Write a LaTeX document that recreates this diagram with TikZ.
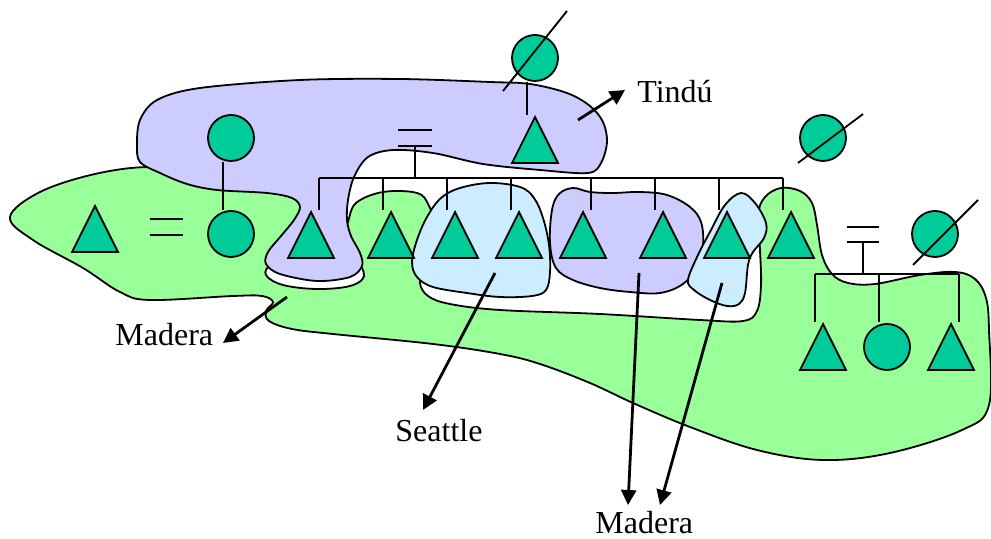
\documentclass[tikz,border=0pt]{standalone}
\usepackage{fontspec}
\setmainfont{Liberation Serif}
\usetikzlibrary{arrows.meta, calc, shapes.geometric}
\definecolor{BlobGreen}{HTML}{99FF99}
\definecolor{BlobLilac}{HTML}{CCCCFF}
\definecolor{BlobSky}{HTML}{CCECFF}
\definecolor{PersonGreen}{HTML}{00CC99}
\tikzset{
  male/.style={draw=black, line width=0.9pt, fill=PersonGreen, isosceles triangle, isosceles triangle apex angle=53.13, shape border rotate=90, minimum size=23pt, inner sep=0pt, anchor=apex},
  female/.style={draw=black, line width=0.9pt, fill=PersonGreen, circle, minimum size=23pt, inner sep=0pt},
  greenblob/.style={draw=black, line width=0.9pt, fill=BlobGreen},
  lilacblob/.style={draw=black, line width=0.9pt, fill=BlobLilac},
  skyblob/.style={draw=black, line width=0.9pt, fill=BlobSky},
  kin/.style={draw=black, line width=0.9pt},
  strike/.style={draw=black, line width=0.9pt},
  arrow/.style={-{Triangle[length=7.5pt, width=7.5pt]}, line width=1.4pt},
  label/.style={font=\fontsize{16}{18}\selectfont, inner sep=0pt, anchor=base west}
}

\begin{document}
\begin{tikzpicture}[x=0.5pt, y=-0.5pt]
\useasboundingbox (0,0) rectangle (991,539);

% blobs
\draw[greenblob] plot[smooth cycle, tension=0.6] coordinates {
  (10,217) (40,192) (95,174) (150,167) (205,173) (265,185) (312,212) (302,242) (272,263)
  (266,275) (283,285) (317,289) (350,286) (364,276) (356,258) (343,240) (348,222)
  (356,203) (383,192) (417,193) (429,206) (438,235) (424,266) (420,283)
  (428,296) (450,304) (500,310) (600,314) (700,320) (743,321) (757,311) (761,285) (760,250)
  (758,215) (765,197) (781,188) (800,191) (812,203) (817,225) (822,255) (832,274)
  (848,283) (875,284) (920,275) (955,272) (975,279) (986,298) (989,330) (989,405)
  (962,430) (890,453) (823,460) (757,450) (690,427) (633,403) (590,383) (540,364)
  (500,354) (433,344) (333,334) (292,329) (269,321) (266,311) (273,302) (262,296)
  (233,296) (150,300) (120,292) (83,268) (33,240)};
\draw[lilacblob] plot[smooth cycle, tension=0.55] coordinates {
  (140,120) (157,100) (200,88) (300,80) (400,79) (490,82) (530,84) (567,93) (590,106)
  (603,122) (607,142) (601,163) (588,173) (540,170) (483,164) (433,153) (393,150)
  (368,157) (354,177) (348,200) (347,220) (351,236) (360,253) (362,266) (350,277)
  (317,281) (280,274) (266,264) (268,252) (281,236) (294,220) (300,207) (292,198)
  (267,193) (217,190) (187,184) (160,173) (140,162) (137,145)};
\draw[skyblob] plot[smooth cycle, tension=0.6] coordinates {
  (412,262) (417,240) (427,217) (441,198) (460,188) (490,183) (520,187) (534,198)
  (543,218) (549,245) (550,272) (546,290) (532,296) (500,297) (467,293) (433,287) (417,277)};
\draw[lilacblob] plot[smooth cycle, tension=0.6] coordinates {
  (550,243) (552,210) (559,194) (573,188) (590,192) (613,193) (640,192) (667,195)
  (690,207) (701,222) (703,245) (697,267) (683,284) (660,293) (630,292) (600,288)
  (573,280) (556,268)};
\draw[skyblob] plot[smooth cycle, tension=0.6] coordinates {
  (688,280) (698,255) (711,230) (725,205) (741,193) (755,203) (766,223) (764,238)
  (753,252) (748,265) (745,293) (739,304) (727,306) (710,300) (694,290)};

% people
\node[male] (lm) at (95,204) {};
\node[female] (lmo) at (231,138) {};
\node[female] (lf) at (231,234) {};
\node[female] (td) at (535,58) {};
\node[male] (tm) at (535,115) {};
\foreach \x [count=\i] in {311,391,455,519,583,663,727,791}
  \node[male] (k\i) at (\x,210) {};
\node[female] (rd) at (823,138) {};
\node[female] (rw) at (935,234) {};
\node[male] (c1) at (823,322) {};
\node[female] (c2) at (887,347) {};
\node[male] (c3) at (951,322) {};

% kin lines
\draw[kin] (150,219) -- (183,219) (150,235) -- (183,235);
\draw[kin] ([xshift=-4pt]lmo.south) -- ([xshift=-4pt]lf.north);
\draw[kin] ([xshift=-4pt]td.south) -- ([xshift=-4pt]tm.apex);
\draw[kin] (398,130) -- (432,130) (398,146) -- (432,146);
\coordinate (s1) at (415,146);
\foreach \x [count=\i] in {319,383,447,511,591,655,719,783}
  \coordinate (d\i) at (\x,178);
\draw[kin] (s1) -- (s1 |- d1);
\draw[kin] (d1) -- (d8);
\foreach \i in {1,...,8}
  \draw[kin] (d\i) -- (d\i |- k\i.apex);
\draw[kin] (847,227) -- (879,227) (847,242) -- (879,242);
\coordinate (s2) at (863,242);
\coordinate (e1) at (815,274);
\coordinate (e2) at (879,274);
\coordinate (e3) at (959,274);
\draw[kin] (s2) -- (s2 |- e1);
\draw[kin] (e1) -- (e3);
\draw[kin] (e1) -- (e1 |- c1.apex);
\draw[kin] (e2) -- (e2 |- c1.apex);
\draw[kin] (e3) -- (e3 |- c3.apex);

% deceased
\draw[strike] ($(td)+(-32,33)$) -- ($(td)+(32,-47)$);
\draw[strike] ($(rd)+(-25,25)$) -- ($(rd)+(40,-24)$);
\draw[strike] ($(rw)+(-22,31)$) -- ($(rw)+(43,-34)$);

% labels
\node[label] (tindu) at (637,103) {Tindú};
\node[label] (madL) at (115,346) {Madera};
\node[label] (seat) at (395,442) {Seattle};
\node[label] (madB) at (595,533) {Madera};

\coordinate (a1) at (578,120);
\coordinate (b1) at (625,90);
\coordinate (a2) at (287,297);
\coordinate (b2) at (223,343);
\coordinate (a3) at (495,273);
\coordinate (b3) at (423,410);
\coordinate (a4) at (639,273);
\coordinate (b4) at (628,505);
\coordinate (a5) at (722,283);
\coordinate (b5) at (660,505);
\draw[arrow] (a1) -- (b1);
\draw[arrow] (a2) -- (b2);
\draw[arrow] (a3) -- (b3);
\draw[arrow] (a4) -- (b4);
\draw[arrow] (a5) -- (b5);
\end{tikzpicture}
\end{document}
